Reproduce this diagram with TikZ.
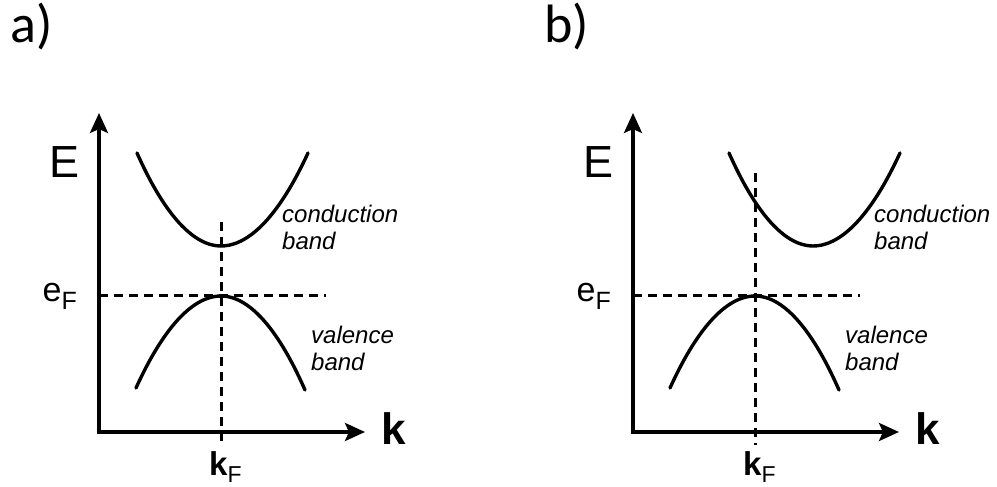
\documentclass[tikz,border=0pt]{standalone}
\usepackage{fontspec}
\setmainfont{Liberation Sans}
\newfontfamily\panfont{Carlito}
\usetikzlibrary{arrows.meta}

\tikzset{
  axis/.style={line width=3.4pt,{Stealth[length=20pt,width=18pt,inset=4pt]}-{Stealth[length=20pt,width=18pt,inset=4pt]}},
  band/.style={line width=3.4pt,line cap=round},
  guide/.style={line width=3pt,dash pattern=on 9pt off 6pt},
  bandlab/.style={align=left,anchor=base west,inner sep=0pt,font=\fontsize{24}{27}\selectfont\itshape},
  txt/.style={inner sep=0pt},
}

\begin{document}
\begin{tikzpicture}[x=1pt,y=1pt]
  \useasboundingbox (0,0) rectangle (997,487);
  \foreach \pan/\dx/\cs/\top in {a/0/0/265,b/534/58/314} {
    \begin{scope}[xshift=\dx]
      % panel letter
      \node[txt,anchor=base west,font=\panfont\fontsize{54}{54}\selectfont] (lab\pan) at (10,444) {\pan)};
      % axes
      \coordinate (o\pan) at (99,55);
      \coordinate (ytop\pan) at (99,374);
      \coordinate (xend\pan) at (365,55);
      \draw[axis] (ytop\pan) -- (o\pan) -- (xend\pan);
      \node[txt,anchor=base west,font=\fontsize{44}{44}\selectfont\bfseries] (k\pan) at (381,42) {k};
      \node[txt,anchor=base east,font=\fontsize{45}{45}\selectfont] (E\pan) at (80,309) {E};
      % Fermi level and Fermi wave vector
      \coordinate (ef\pan) at (99,191);
      \coordinate (efend\pan) at (326,191);
      \coordinate (kt\pan) at (221,\top);
      \coordinate (kb\pan) at (221,42);
      \draw[guide] (ef\pan) -- (efend\pan);
      \draw[guide] (kt\pan) -- (kb\pan);
      \node[txt,anchor=base east,font=\fontsize{34}{34}\selectfont] (eF\pan) at (77,185)
        {e\raisebox{-8pt}{\fontsize{25}{25}\selectfont F}};
      \node[txt,anchor=base west,font=\fontsize{33}{33}\selectfont] (kF\pan) at (209,11)
        {\textbf{k}\raisebox{-7pt}{\fontsize{23}{23}\selectfont F}};
      % bands
      \draw[band] (137+\cs,334) parabola bend (221+\cs,241) (308+\cs,334);
      \draw[band] (136,99) parabola bend (221,191) (305,97);
      \node[bandlab] (cb\pan) at (282+\cs,237) {conduction\\band};
      \node[bandlab] (vb\pan) at (311,116) {valence\\band};
    \end{scope}
  }
\end{tikzpicture}
\end{document}
